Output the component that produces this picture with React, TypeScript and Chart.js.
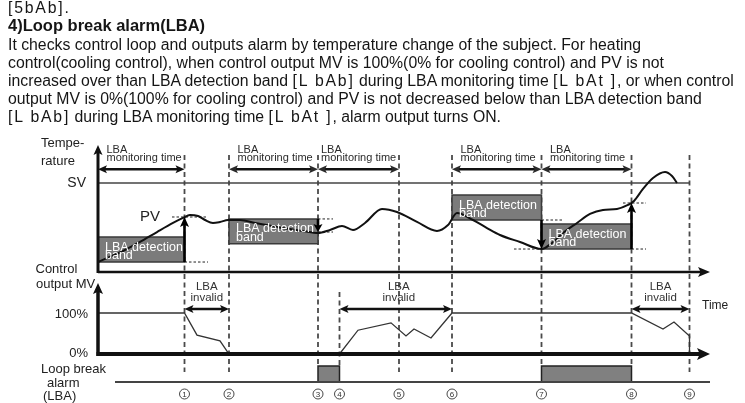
import React, { useEffect, useRef } from 'react';
import { Chart, registerables } from 'chart.js';

Chart.register(...registerables);

// ---------- data (time in arbitrary units, temperature with SV = 100, MV in %) ----------
const EVENT_TIMES = [8.65, 13.1, 22.0, 24.15, 30.1, 35.4, 44.35, 53.35, 59.15];
const EVENT_LABELS = ['1', '2', '3', '4', '5', '6', '7', '8', '9'];
const EVENT_IN_TEMP = [true, true, true, false, true, true, true, true, true];
const EVENT_ON_ALARM = [false, false, true, true, false, false, true, true, false];

const SV_VALUE = 100;

const PV_TIME = [0, 2.5, 4.2, 5.9, 7.5, 8.5, 9.2, 10.0, 10.7, 11.5, 12.2, 13.0, 14.2, 15.7, 17.9, 20.5, 22.0, 23.2, 24.4, 25.5, 26.7, 28.4, 29.9, 31.9, 33.9, 35.0, 35.9, 37.5, 38.9, 40.2, 42.2, 44.35, 45.4, 46.5, 47.9, 49.2, 50.5, 51.9, 53.0, 53.6, 54.5, 55.5, 56.7, 57.4, 57.9];
const PV_TEMP = [11.2, 23.6, 33.7, 44.9, 55.1, 60.7, 64.0, 62.9, 58.4, 55.1, 56.2, 58.4, 58.4, 55.1, 50.6, 46.1, 43.8, 47.2, 51.7, 47.2, 55.1, 70.8, 67.4, 56.2, 46.1, 52.8, 66.3, 58.4, 49.4, 41.6, 33.7, 25.8, 32.6, 43.8, 55.1, 65.2, 69.7, 70.8, 75.3, 79.8, 93.3, 105.6, 112.4, 107.9, 100.0];

const BAND_START = [0, 13.1, 35.4, 44.35];
const BAND_END = [8.65, 22.0, 44.35, 53.35];
const BAND_LOW = [11.2, 31.6, 58.4, 25.8];
const BAND_WIDTH = 28;
const BAND_TEXT = ['LBA detection', 'band'];

const MONITOR_START = [0, 13.1, 22.0, 35.4, 44.35];
const MONITOR_END = [8.65, 22.0, 30.1, 44.35, 53.35];
const MONITOR_TEXT = ['LBA', 'monitoring time'];

const DETECT_ARROW_TIME = [8.65, 22.0, 44.35, 53.35];
const DETECT_ARROW_FROM = [11.2, 59.6, 58.4, 25.8];
const DETECT_ARROW_TO = [61.8, 44.9, 25.8, 77.5];

const GUIDE_START = [7.4, 8.65, 22.0, 22.0, 44.35, 41.6, 53.35, 52.5];
const GUIDE_END = [11.0, 11.0, 23.5, 23.5, 46.4, 44.35, 54.8, 54.8];
const GUIDE_TEMP = [61.8, 11.2, 59.6, 44.9, 58.4, 25.8, 25.8, 77.5];

const MV_TIME = [0, 8.65, 9.9, 12.2, 13.1, 24.15, 26.0, 29.3, 30.8, 31.6, 33.3, 35.4, 53.35, 56.5, 57.6, 59.15, 59.15];
const MV_VALUE = [100, 100, 46, 32, 0, 0, 58, 76, 44, 61, 39, 100, 100, 61, 78, 44, 0];

const INVALID_START = [8.65, 24.15, 53.35];
const INVALID_END = [13.1, 35.4, 59.15];
const INVALID_TEXT = ['LBA', 'invalid'];

const ALARM_START = [22.0, 44.35];
const ALARM_END = [24.15, 53.35];

const TIME_END = 61.2;

const TEXT_LINES = [
  'It checks control loop and outputs alarm by temperature change of the subject. For heating',
  'control(cooling control), when control output MV is 100%(0% for cooling control) and PV is not',
  'increased over than LBA detection band [L bAb] during LBA monitoring time [L bAt ], or when control',
  'output MV is 0%(100% for cooling control) and PV is not decreased below than LBA detection band',
  '[L bAb] during LBA monitoring time [L bAt ], alarm output turns ON.',
];

// ---------- drawing helpers ----------
const FONT = '"Liberation Sans", Arial, Helvetica, sans-serif';

function head(ctx: CanvasRenderingContext2D, tx: number, ty: number, dx: number, dy: number, len: number, half: number) {
  const bx = tx - dx * len, by = ty - dy * len;
  const nx = -dy, ny = dx;
  ctx.beginPath();
  ctx.moveTo(tx, ty);
  ctx.lineTo(bx + nx * half, by + ny * half);
  ctx.lineTo(tx - dx * len * 0.78, ty - dy * len * 0.78);
  ctx.lineTo(bx - nx * half, by - ny * half);
  ctx.closePath();
  ctx.fill();
}

function arrow(ctx: CanvasRenderingContext2D, x1: number, y1: number, x2: number, y2: number, w: number, len: number, half: number, both: boolean) {
  const L = Math.hypot(x2 - x1, y2 - y1);
  const dx = (x2 - x1) / L, dy = (y2 - y1) / L;
  ctx.lineWidth = w;
  ctx.beginPath();
  const s = both ? len * 0.7 : 0;
  ctx.moveTo(x1 + dx * s, y1 + dy * s);
  ctx.lineTo(x2 - dx * len * 0.7, y2 - dy * len * 0.7);
  ctx.stroke();
  head(ctx, x2, y2, dx, dy, len, half);
  if (both) head(ctx, x1, y1, -dx, -dy, len, half);
}

function text(ctx: CanvasRenderingContext2D, s: string, x: number, y: number, size: number, align: CanvasTextAlign = 'left', color = '#222', family = FONT) {
  ctx.font = `${size}px ${family}`;
  ctx.textAlign = align;
  ctx.textBaseline = 'alphabetic';
  ctx.fillStyle = color;
  ctx.fillText(s, x, y);
}

const diagramPlugin = {
  id: 'lbaDiagram',
  beforeDatasetsDraw(chart: any) {
    const ctx: CanvasRenderingContext2D = chart.ctx;
    const { x, yT, yM, yA } = chart.scales;
    ctx.save();
    ctx.strokeStyle = '#4a4a4a';
    ctx.lineWidth = 1.8;
    ctx.setLineDash([5, 3.5]);
    EVENT_TIMES.forEach((t, i) => {
      const px = x.getPixelForValue(t);
      const top = EVENT_IN_TEMP[i] ? yT.getPixelForValue(131.5) : yM.getPixelForValue(151);
      const bottom = EVENT_ON_ALARM[i] ? yA.getPixelForValue(1) : yA.getPixelForValue(0.62);
      ctx.beginPath();
      ctx.moveTo(px, top);
      ctx.lineTo(px, bottom);
      ctx.stroke();
    });
    // dotted level guides
    ctx.setLineDash([2.5, 2]);
    ctx.lineWidth = 1;
    ctx.strokeStyle = '#222';
    GUIDE_START.forEach((s, i) => {
      const py = yT.getPixelForValue(GUIDE_TEMP[i]);
      ctx.beginPath();
      ctx.moveTo(x.getPixelForValue(s), py);
      ctx.lineTo(x.getPixelForValue(GUIDE_END[i]), py);
      ctx.stroke();
    });
    ctx.restore();
  },
  afterDatasetsDraw(chart: any) {
    const ctx: CanvasRenderingContext2D = chart.ctx;
    const { x, yT, yM, yA } = chart.scales;
    const x0 = x.getPixelForValue(0);
    const xEnd = x.getPixelForValue(TIME_END);
    ctx.save();
    ctx.fillStyle = '#111';
    ctx.strokeStyle = '#111';

    // temperature axes
    const t0 = yT.getPixelForValue(0);
    arrow(ctx, x0, t0 + 1, x0, yT.getPixelForValue(142.7), 3, 10, 4.5, false);
    arrow(ctx, x0, t0, xEnd, t0, 2.5, 12, 5, false);
    // MV axes
    const m0 = yM.getPixelForValue(0);
    arrow(ctx, x0, m0 + 2, x0, yM.getPixelForValue(173), 3.5, 11, 5, false);
    arrow(ctx, x0 - 1.5, m0, xEnd, m0, 4, 13, 6, false);
    // alarm baseline
    ctx.strokeStyle = '#444';
    ctx.lineWidth = 2;
    ctx.beginPath();
    ctx.moveTo(x.getPixelForValue(1.7), yA.getPixelForValue(0));
    ctx.lineTo(xEnd, yA.getPixelForValue(0));
    ctx.stroke();

    // monitoring time arrows
    ctx.strokeStyle = '#111';
    const my = yT.getPixelForValue(115.5);
    MONITOR_START.forEach((s, i) => {
      const a = x.getPixelForValue(s), b = x.getPixelForValue(MONITOR_END[i]);
      arrow(ctx, a, my, b, my, 2.5, 9, 4, true);
      const lx = a + (i === 2 ? 3 : 8.5);
      text(ctx, MONITOR_TEXT[0], lx, my - 16, 11, 'left', '#2a2a2a');
      text(ctx, MONITOR_TEXT[1], lx, my - 8, 11, 'left', '#2a2a2a');
    });
    // LBA invalid arrows
    const iy = yM.getPixelForValue(110);
    INVALID_START.forEach((s, i) => {
      const a = x.getPixelForValue(s), b = x.getPixelForValue(INVALID_END[i]);
      ctx.fillStyle = '#111';
      arrow(ctx, a, iy, b, iy, 2.5, 9, 4, true);
      const cx = (a + b) / 2 + (i === 1 ? 3 : 0);
      text(ctx, INVALID_TEXT[0], cx, iy - 19, 11.5, 'center', '#333');
      text(ctx, INVALID_TEXT[1], cx, iy - 7.5, 11.5, 'center', '#333');
    });
    // detection arrows
    ctx.fillStyle = '#000';
    ctx.strokeStyle = '#000';
    DETECT_ARROW_TIME.forEach((t, i) => {
      const px = x.getPixelForValue(t);
      arrow(ctx, px, yT.getPixelForValue(DETECT_ARROW_FROM[i]), px, yT.getPixelForValue(DETECT_ARROW_TO[i]), 2.6, i === 1 ? 8 : 10, 4.5, false);
    });
    // band labels
    BAND_START.forEach((s, i) => {
      const left = x.getPixelForValue(s) + 7;
      const top = yT.getPixelForValue(BAND_LOW[i] + BAND_WIDTH);
      text(ctx, BAND_TEXT[0], left, top + 13.5, 12.5, 'left', '#fff');
      text(ctx, BAND_TEXT[1], left, top + 22, 12.5, 'left', '#fff');
    });

    // axis labels
    text(ctx, 'Tempe-', 41, 147, 13);
    text(ctx, 'rature', 41, 165, 13);
    text(ctx, 'SV', x0 - 12, yT.getPixelForValue(SV_VALUE) + 4.5, 14, 'right');
    text(ctx, 'PV', 140, 221, 15);
    text(ctx, 'Control', 35.5, 273, 13);
    text(ctx, 'output MV', 36, 288, 13);
    text(ctx, '100%', x0 - 10, yM.getPixelForValue(100) + 4.7, 13, 'right');
    text(ctx, '0%', x0 - 10, yM.getPixelForValue(0) + 2.5, 13, 'right');
    text(ctx, 'Loop break', 41, 373, 13);
    text(ctx, 'alarm', 47, 387, 13);
    text(ctx, '(LBA)', 43, 400, 13);
    text(ctx, 'Time', 702, 309, 12);

    // event numbers (circled)
    ctx.setLineDash([]);
    EVENT_TIMES.forEach((t, i) => {
      const cx = x.getPixelForValue(t);
      const cy = 394;
      ctx.strokeStyle = '#333';
      ctx.lineWidth = 0.9;
      ctx.beginPath();
      ctx.arc(cx, cy, 5, 0, Math.PI * 2);
      ctx.stroke();
      text(ctx, EVENT_LABELS[i], cx, cy + 3, 8, 'center', '#333');
    });
    ctx.restore();
  },
};

const pts = (xs: number[], ys: number[]) => xs.map((v, i) => ({ x: v, y: ys[i] }));
const rect = (s: number, e: number, lo: number, hi: number) => [
  { x: s, y: lo }, { x: s, y: hi }, { x: e, y: hi }, { x: e, y: lo }, { x: s, y: lo },
];

function withCodes(line: string) {
  return line.split(/(\[[^\]]*\])/).map((part, i) =>
    part.startsWith('[') ? (
      <span key={i} style={{ letterSpacing: '1.8px' }}>{part}</span>
    ) : (
      <React.Fragment key={i}>{part}</React.Fragment>
    ),
  );
}

export default function App() {
  const ref = useRef<HTMLCanvasElement | null>(null);

  useEffect(() => {
    if (!ref.current) return;
    const datasets: any[] = [
      {
        label: 'PV', data: pts(PV_TIME, PV_TEMP), yAxisID: 'yT', borderColor: '#111', borderWidth: 2,
        cubicInterpolationMode: 'monotone', pointRadius: 0, fill: false,
      },
      {
        label: 'SV', data: [{ x: 0, y: SV_VALUE }, { x: EVENT_TIMES[8], y: SV_VALUE }], yAxisID: 'yT',
        borderColor: '#444', borderWidth: 1.3, pointRadius: 0, fill: false,
      },
      {
        label: 'MV', data: pts(MV_TIME, MV_VALUE), yAxisID: 'yM', borderColor: '#333', borderWidth: 1.3,
        pointRadius: 0, fill: false,
      },
      ...BAND_START.map((s, i) => ({
        label: 'band' + i, data: rect(s, BAND_END[i], BAND_LOW[i], BAND_LOW[i] + BAND_WIDTH), yAxisID: 'yT',
        borderColor: '#3a3a3a', borderWidth: 1.5, backgroundColor: '#7b7b7b', fill: 'shape', pointRadius: 0,
      })),
      ...ALARM_START.map((s, i) => ({
        label: 'alarm' + i, data: rect(s, ALARM_END[i], 0, 1), yAxisID: 'yA',
        borderColor: '#222', borderWidth: 1.5, backgroundColor: '#808080', fill: 'shape', pointRadius: 0,
      })),
    ];
    const chart = new Chart(ref.current, {
      type: 'line',
      data: { datasets },
      options: {
        animation: false,
        responsive: false,
        maintainAspectRatio: false,
        events: [],
        layout: { padding: 0 },
        plugins: { legend: { display: false }, tooltip: { enabled: false } },
        scales: {
          x: { type: 'linear', min: -9.8, max: 64.7, display: false },
          yT: { type: 'linear', position: 'left', min: -147.2, max: 305.6, display: false },
          yM: { type: 'linear', position: 'left', min: -119.5, max: 863.4, display: false },
          yA: { type: 'linear', position: 'left', min: -1.3125, max: 23.875, display: false },
        },
      } as any,
      plugins: [diagramPlugin as any],
    });
    return () => chart.destroy();
  }, []);

  const lineStyle = (top: number): React.CSSProperties => ({
    position: 'fixed', left: 8, top, margin: 0, whiteSpace: 'nowrap',
    fontFamily: FONT, fontSize: '15.8px', lineHeight: '15.8px', color: '#151515',
  });

  return (
    <div>
      <div style={lineStyle(-0.5)}>{withCodes('[5bAb].')}</div>
      <div style={{ ...lineStyle(17), fontWeight: 'bold', fontSize: '16.5px', lineHeight: '16.5px' }}>4)Loop break alarm(LBA)</div>
      {TEXT_LINES.map((l, i) => (
        <div key={i} style={lineStyle(36.6 + i * 18)}>{withCodes(l)}</div>
      ))}
      <canvas ref={ref} width={745} height={403} style={{ position: 'fixed', left: 0, top: 0 }} />
    </div>
  );
}
